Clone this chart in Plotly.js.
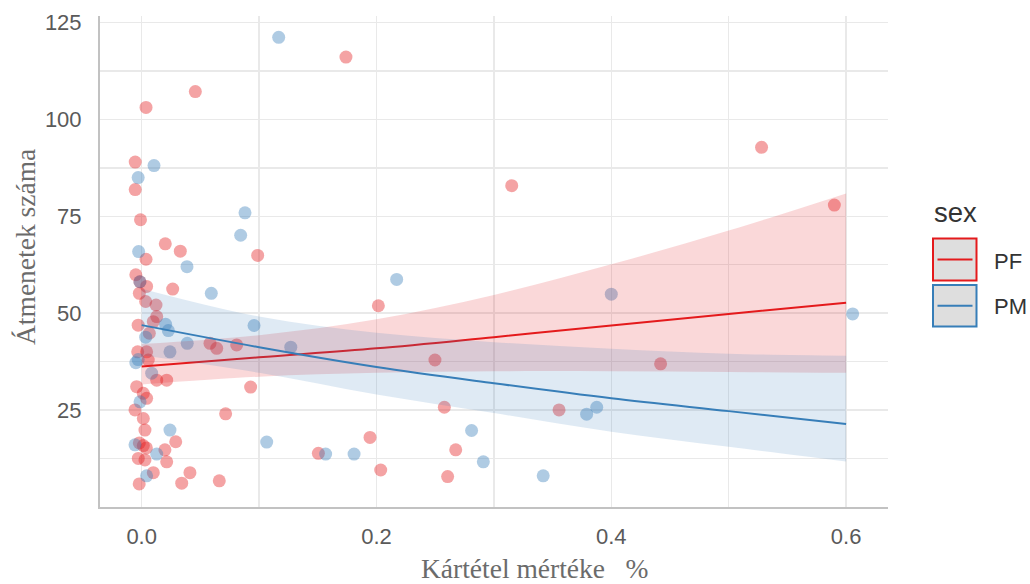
<!DOCTYPE html>
<html>
<head>
<meta charset="utf-8">
<script src="https://cdn.plot.ly/plotly-3.0.1.min.js"></script>
<style>html,body{margin:0;padding:0;background:#fff;}#chart{width:1030px;height:584px;}</style>
</head>
<body>
<div id="chart"></div>
<script>
// Scatter points (jittered), PF group
const pfX = [0.174, 0.0457, 0.0037, -0.0055, -0.0055, -0.001, 0.0988, 0.0201, 0.0329, 0.0037,
  -0.005, -0.0015, 0.0264, 0.0042, -0.002, 0.0034, 0.0122, 0.0128, 0.0099, -0.003,
  0.0065, -0.0034, 0.0042, 0.0056, 0.0582, 0.0639, 0.0809, 0.0128, 0.0213, -0.0043,
  0.0014, 0.0042, 0.0928, -0.0057, 0.0014, 0.0715, 0.0028, 0.029, 0.0014, -0.002,
  0.004, 0.0198, -0.0029, 0.0028, 0.0213, 0.0411, 0.0099, 0.0341, -0.0021, 0.0661,
  0.2016, 0.2498, 0.2578, 0.1945, 0.2675, 0.1505, 0.2036, 0.2606, 0.3152, 0.59,
  0.528, 0.442, 0.3555];
const pfY = [116.1, 107.2, 103.1, 89.0, 81.9, 74.1, 64.9, 67.9, 66.0, 63.9,
  59.9, 58.1, 56.2, 56.9, 55.1, 53.0, 52.1, 49.1, 47.8, 46.9,
  44.8, 40.0, 40.0, 37.9, 42.2, 40.9, 41.8, 32.7, 32.7, 31.0,
  29.3, 28.0, 30.9, 25.0, 22.8, 24.0, 19.8, 16.8, 15.8, 16.5,
  15.2, 14.7, 12.5, 12.1, 11.6, 8.8, 8.8, 6.1, 5.9, 6.7,
  51.9, 37.9, 25.7, 17.9, 14.7, 13.8, 9.5, 7.8, 82.9, 77.9,
  92.8, 36.9, 25.0];
// Scatter points (jittered), PM group
const pmX = [0.1167, 0.0105, -0.003, 0.088, 0.0843, -0.0026, 0.0386, -0.0015, 0.0593, 0.0204,
  0.0227, 0.0957, 0.0034, 0.0388, 0.0241, 0.127, -0.005, -0.003, 0.0085, -0.0014,
  0.0241, -0.0057, 0.0128, 0.0042, 0.1065, 0.1567, 0.1809, 0.2172, 0.281, 0.291,
  0.342, 0.4, 0.379, 0.3876, 0.6056];
const pmY = [121.2, 88.1, 85.0, 75.9, 70.1, 65.9, 62.0, 58.1, 55.1, 47.1,
  45.5, 46.8, 43.8, 42.2, 40.0, 41.2, 37.2, 38.0, 34.5, 27.1,
  19.8, 16.0, 13.6, 8.0, 16.7, 13.6, 13.6, 58.7, 19.7, 11.6,
  8.0, 54.9, 23.9, 25.7, 49.8];
// Smooth fits and confidence bands
const fitX = [0, 0.1, 0.2, 0.3, 0.4, 0.5, 0.6];
const pfFit = [36.2, 38.6, 40.9, 43.8, 46.8, 49.8, 52.7];
const pfLower = [31.6, 33.6, 34.6, 35.0, 35.0, 34.8, 34.6];
const pfUpper = [42.0, 44.3, 48.4, 54.7, 62.6, 71.3, 80.9];
const pmFit = [46.9, 41.2, 36.1, 31.9, 28.0, 24.7, 21.4];
const pmLower = [39.1, 34.6, 29.0, 24.2, 19.4, 15.5, 11.7];
const pmUpper = [56.3, 49.1, 44.9, 42.5, 40.8, 39.5, 39.0];
const groups = ['PF', 'PM'];
const xTicks = [0, 0.2, 0.4, 0.6];
const xTickText = ['0.0', '0.2', '0.4', '0.6'];
const yTicks = [25, 50, 75, 100, 125];

const RED = '#E41A1C', BLUE = '#377EB8';
const traces = [
  {x: pfX, y: pfY, type: 'scatter', mode: 'markers', name: groups[0], showlegend: false,
   marker: {color: RED, opacity: 0.4, size: 13, line: {width: 0}}, hoverinfo: 'skip'},
  {x: pmX, y: pmY, type: 'scatter', mode: 'markers', name: groups[1], showlegend: false,
   marker: {color: BLUE, opacity: 0.4, size: 13, line: {width: 0}}, hoverinfo: 'skip'},
  {x: fitX, y: pfLower, type: 'scatter', mode: 'lines', line: {width: 0, color: 'rgba(0,0,0,0)', shape: 'spline'}, showlegend: false, hoverinfo: 'skip'},
  {x: fitX, y: pfUpper, type: 'scatter', mode: 'lines', fill: 'tonexty', fillcolor: 'rgba(228,26,28,0.17)',
   line: {width: 0, color: 'rgba(0,0,0,0)', shape: 'spline'}, showlegend: false, hoverinfo: 'skip'},
  {x: fitX, y: pfFit, type: 'scatter', mode: 'lines', line: {color: RED, width: 2, shape: 'spline'}, showlegend: false},
  {x: fitX, y: pmLower, type: 'scatter', mode: 'lines', line: {width: 0, color: 'rgba(0,0,0,0)', shape: 'spline'}, showlegend: false, hoverinfo: 'skip'},
  {x: fitX, y: pmUpper, type: 'scatter', mode: 'lines', fill: 'tonexty', fillcolor: 'rgba(55,126,184,0.16)',
   line: {width: 0, color: 'rgba(0,0,0,0)', shape: 'spline'}, showlegend: false, hoverinfo: 'skip'},
  {x: fitX, y: pmFit, type: 'scatter', mode: 'lines', line: {color: BLUE, width: 2, shape: 'spline'}, showlegend: false}
];

// helpers for layout placement (pixel -> paper)
const L = 100, R = 888, T = 16, B = 507;
const px = v => (v - L) / (R - L);
const py = v => (B - v) / (B - T);

const shapes = [
  {type: 'rect', xref: 'paper', yref: 'paper', x0: px(933), x1: px(976.5), y0: py(280.5), y1: py(238.5),
   fillcolor: '#dedede', line: {color: RED, width: 2}},
  {type: 'line', xref: 'paper', yref: 'paper', x0: px(937.5), x1: px(972.5), y0: py(259.5), y1: py(259.5),
   line: {color: RED, width: 2}},
  {type: 'rect', xref: 'paper', yref: 'paper', x0: px(933), x1: px(976.5), y0: py(326.5), y1: py(285),
   fillcolor: '#dedede', line: {color: BLUE, width: 2}},
  {type: 'line', xref: 'paper', yref: 'paper', x0: px(937.5), x1: px(972.5), y0: py(305.7), y1: py(305.7),
   line: {color: BLUE, width: 2}}
];

const annotations = [
  {text: 'Átmenetek száma', xref: 'paper', yref: 'paper', x: px(25), y: py(247), textangle: -90,
   showarrow: false, xanchor: 'center', yanchor: 'middle',
   font: {family: '"Liberation Serif", "Times New Roman", serif', size: 27.5, color: '#6b6b6b'}},
  {text: 'Kártétel mértéke\u00a0\u00a0\u00a0%', xref: 'paper', yref: 'paper', x: px(535), y: py(568),
   showarrow: false, xanchor: 'center', yanchor: 'middle',
   font: {family: '"Liberation Serif", "Times New Roman", serif', size: 27.5, color: '#6b6b6b'}},
  {text: 'sex', xref: 'paper', yref: 'paper', x: px(932), y: py(212), showarrow: false,
   xanchor: 'left', yanchor: 'middle', font: {family: '"Liberation Sans", Arial, sans-serif', size: 27.5, color: '#333333'}},
  {text: groups[0], xref: 'paper', yref: 'paper', x: px(992), y: py(261.5), showarrow: false,
   xanchor: 'left', yanchor: 'middle', font: {family: '"Liberation Sans", Arial, sans-serif', size: 22, color: '#333333'}},
  {text: groups[1], xref: 'paper', yref: 'paper', x: px(992), y: py(306), showarrow: false,
   xanchor: 'left', yanchor: 'middle', font: {family: '"Liberation Sans", Arial, sans-serif', size: 22, color: '#333333'}}
];

const layout = {
  width: 1030, height: 584,
  margin: {l: L, r: 1030 - R, t: T, b: 584 - B, pad: 0},
  paper_bgcolor: '#ffffff', plot_bgcolor: '#ffffff',
  showlegend: false,
  xaxis: {
    range: [-0.0355, 0.6357], tickvals: xTicks, ticktext: xTickText,
    showgrid: true, gridcolor: '#e9e9e9', gridwidth: 1.5, zeroline: false,
    minor: {dtick: 0.1, tick0: 0, showgrid: true, gridcolor: '#e9e9e9', gridwidth: 1.5},
    showline: true, linecolor: '#c2c2c2', linewidth: 2, ticks: '', ticklabelstandoff: 9,
    tickfont: {family: '"Liberation Sans", Arial, sans-serif', size: 22, color: '#5a5a5a'}
  },
  yaxis: {
    range: [-0.05, 126.7], tickvals: yTicks,
    showgrid: true, gridcolor: '#e9e9e9', gridwidth: 1.5, zeroline: false,
    minor: {dtick: 12.5, tick0: 0, showgrid: true, gridcolor: '#e9e9e9', gridwidth: 1.5},
    showline: true, linecolor: '#c2c2c2', linewidth: 2, ticks: '', ticklabelstandoff: 12,
    tickfont: {family: '"Liberation Sans", Arial, sans-serif', size: 22, color: '#5a5a5a'}
  },
  shapes: shapes,
  annotations: annotations
};

Plotly.newPlot('chart', traces, layout, {displayModeBar: false, staticPlot: true});
</script>
</body>
</html>
